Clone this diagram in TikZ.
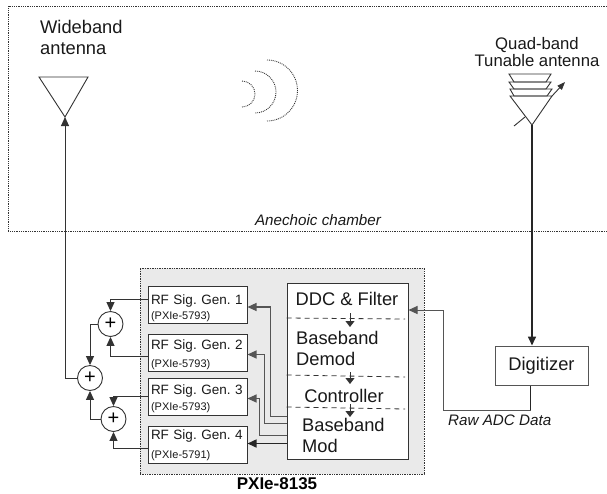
\documentclass[tikz,border=0pt]{standalone}
\usepackage{fontspec}
\setmainfont{Liberation Sans}
\usetikzlibrary{positioning, arrows.meta}
\definecolor{linedark}{HTML}{333333}
\definecolor{linegray}{HTML}{555555}
\definecolor{panelgray}{HTML}{EAEAEA}
\newcommand{\fontat}[1]{\fontsize{#1}{#1}\selectfont\frenchspacing}
\begin{document}
\begin{tikzpicture}[
    x=1pt, y=-1pt,
    >={Stealth[length=9pt, width=8pt, inset=0pt]},
    panel/.style={
      rectangle, draw=linedark, fill=panelgray, densely dotted,
      line width=0.7pt, minimum width=284pt, minimum height=206pt,
    },
    rfgen/.style={
      rectangle, draw=linedark, fill=white, line width=1pt,
      minimum width=99pt, minimum height=37pt,
      text width=93pt, inner sep=0pt, align=left,
      font=\fontat{13.5}, text=black!90,
    },
    mainbox/.style={
      rectangle, draw=linedark, fill=white, line width=1pt,
      minimum width=121pt, minimum height=176pt,
    },
    digit/.style={
      rectangle, draw=linegray, fill=white, line width=1pt,
      minimum width=93pt, minimum height=39pt,
      font=\fontat{18.3}, text=black!90,
    },
    adder/.style={
      circle, draw=linedark, fill=white, line width=0.9pt,
      minimum size=25pt, inner sep=0pt, font=\fontat{20},
    },
    label/.style={font=\fontat{18.3}, text=black!90, inner sep=0pt},
    smalllabel/.style={font=\fontat{16.7}, text=black!90, inner sep=0pt, align=center},
    note/.style={font=\fontat{15.2}\itshape, text=black!90, inner sep=0pt},
    feed/.style={->, linedark, line width=1pt},
    modline/.style={->, linegray, line width=1.1pt},
    wave/.style={densely dotted, linedark, line width=0.9pt},
    divider/.style={dash pattern=on 5pt off 4pt, linedark, line width=0.8pt},
    elem/.style={linedark, line width=0.9pt},
  ]
  \useasboundingbox (0,0) rectangle (607,493);

  % chamber
  \draw[linedark, densely dotted, line width=0.8pt]
    (607,6) -- (8,6) -- (8,231) -- (607,231);
  \node[note] (chamber) at (318,220) {Anechoic chamber};

  % antennas
  \node[label, align=left, anchor=north west] (wide) at (40,20) {Wideband\\[3pt]antenna};
  \coordinate (widetip) at (65,117);
  \draw[elem] (39,77) -- (88,77) -- (widetip) -- cycle;

  \node[smalllabel] (quad) at (537,52) {Quad-band\\[1pt]Tunable antenna};
  \coordinate (quadtip) at (532,125);
  \draw[elem] (509,74) -- (551,74) -- (546,82) -- (514,82) -- cycle;
  \draw[elem] (509,82) -- (551,82) -- (546,89) -- (514,89) -- cycle;
  \draw[elem] (510,89) -- (552,89) -- (547,96) -- (514,96) -- cycle;
  \draw[elem] (510,96) -- (552,96) -- (quadtip) -- cycle;
  \draw[elem] (514,126) -- (525,117);
  \draw[->, elem, >={Stealth[length=8pt, width=6pt, inset=0pt]}] (552,96) -- (565,82);

  % waves
  \draw[wave] (242,81) arc[start angle=90, end angle=-90, radius=13pt];
  \draw[wave] (255,71) arc[start angle=90, end angle=-90, radius=21pt];
  \draw[wave] (267,60) arc[start angle=90, end angle=-90, radius=30.5pt];

  % PXIe chassis
  \node[panel] (chassis) at (282,371) {};
  \node[font=\fontat{17}\bfseries, text=black, inner sep=0pt] (chassislabel) at (277,484) {PXIe-8135};

  \node[rfgen] (gen1) at (197.5,305) {\rule{0pt}{16.5pt}RF Sig. Gen. 1\\[1pt]{\fontat{11}(PXIe-5793)}};
  \node[rfgen, below=10pt of gen1] (gen2) {\rule{0pt}{13.5pt}RF Sig. Gen. 2\\[4pt]{\fontat{11}(PXIe-5793)}};
  \node[rfgen, below=6pt of gen2] (gen3) {\rule{0pt}{13.5pt}RF Sig. Gen. 3\\[3pt]{\fontat{11}(PXIe-5793)}};
  \node[rfgen, below=10pt of gen3] (gen4) {RF Sig. Gen. 4\\[5pt]{\fontat{11}(PXIe-5791)}};

  \node[mainbox] (host) at (347.5,371) {};
  \node[label] (ddc) at (347,299) {DDC \& Filter};
  \node[label, align=left, anchor=north west] (demod) at (296,331) {Baseband\\[3pt]Demod};
  \node[label] (ctrl) at (344,396) {Controller};
  \node[label, align=left, anchor=north west] (mod) at (302,418) {Baseband\\[3pt]Mod};

  \draw[divider] (host.west |- 0,318) -- (405,319);
  \draw[divider] (host.west |- 0,375) -- (405,377);
  \draw[divider] (host.west |- 0,407) -- (405,409);
  \draw[feed, >={Stealth[length=6pt, width=9pt, inset=0pt]}] (350,313) -- (350,327);
  \draw[feed, >={Stealth[length=6pt, width=9pt, inset=0pt]}] (350,372) -- (350,384);
  \draw[feed, >={Stealth[length=6pt, width=9pt, inset=0pt]}] (350,404) -- (350,417);

  \draw[modline] ([yshift=43pt]host.south west) -- ++(-16,0) |- ([yshift=-2pt]gen1.east);
  \draw[modline] ([yshift=36pt]host.south west) -- ++(-22,0) |- ([yshift=-1.5pt]gen2.east);
  \draw[modline] ([yshift=24pt]host.south west) -- ++(-27,0) |- ([yshift=-1.5pt]gen3.east);
  \draw[->, black!85, line width=1.5pt] ([yshift=16pt]host.south west) -- ([yshift=16pt]host.south west -| gen4.east);

  % adders
  \node[adder] (add1) at (110.5,324) {+};
  \node[adder] (add2) at (90,378) {+};
  \node[adder] (add3) at (113.5,419) {+};

  \draw[feed] ([yshift=6pt]gen1.west) -| (add1.north);
  \draw[feed] ([yshift=-3.5pt]gen2.west) -| (add1.south);
  \draw[feed] (add1.west) -| (add2.north);
  \draw[feed] ([yshift=0.5pt]gen3.west) -| (add3.north);
  \draw[feed] ([yshift=-3.5pt]gen4.west) -| (add3.south);
  \draw[feed] (add3.west) -| (add2.south);
  \draw[feed] (add2.west) -| (widetip);

  % digitizer
  \node[digit] (digi) at (541.5,365.5) {Digitizer};
  \draw[->, black!85, line width=1.6pt] (quadtip) -- (quadtip |- digi.north);
  \coordinate (rawbend) at (443,410);
  \draw[feed, linegray] ([xshift=-11pt]digi.south) -- ([xshift=-11pt]digi.south |- rawbend)
    -- (rawbend) |- ([yshift=61pt]host.east);
  \draw[black!85, line width=1.3pt] ([xshift=-11pt]digi.south) -- ([xshift=-11pt]digi.south |- rawbend);
  \node[note, below right=5pt and 5pt of rawbend] (rawlabel) {Raw ADC Data};
\end{tikzpicture}
\end{document}
